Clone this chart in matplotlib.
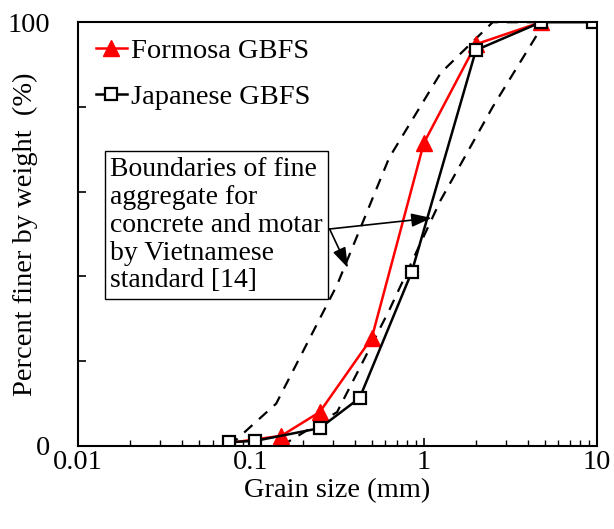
import numpy as np
import matplotlib
matplotlib.use("Agg")
import matplotlib.pyplot as plt
from matplotlib.ticker import FixedLocator, FuncFormatter, LogLocator

plt.rcParams['font.family'] = ['Liberation Serif', 'DejaVu Serif']
plt.rcParams['font.size'] = 20.5

# grading curves (grain size in mm, percent passing)
formosa_x = [0.075, 0.15, 0.25, 0.5, 1.0, 2.0, 4.75]
formosa_y = [0.7, 2.4, 8, 25.5, 71.5, 94.8, 100]

japan_x = [0.075, 0.106, 0.25, 0.425, 0.85, 2.0, 4.75, 9.5]
japan_y = [0.9, 1.2, 4.2, 11.3, 41, 93.4, 100, 100]

# Vietnamese standard boundaries
upper_x = [0.075, 0.14, 0.315, 0.63, 1.25, 2.5, 5]
upper_y = [0, 10, 38, 68, 88, 100, 100]
lower_x = [0.15, 0.315, 0.63, 1.25, 2.5, 5]
lower_y = [0, 8, 32, 58, 80, 100]

fig = plt.figure(figsize=(6.14, 5.29), dpi=100)
ax = fig.add_axes([0.127, 0.157, 0.845, 0.801])

ax.plot(upper_x, upper_y, 'k--', lw=1.6, dashes=(5, 4))
ax.plot(lower_x, lower_y, 'k--', lw=1.6, dashes=(5, 4))
ax.plot(formosa_x, formosa_y, color='red', lw=1.8, marker='^', ms=11,
        mfc='red', mec='red', label='Formosa GBFS')
ax.plot(japan_x, japan_y, color='black', lw=1.8, marker='s', ms=8,
        mfc='white', mec='black', mew=1.6, label='Japanese GBFS')

ax.set_xscale('log')
ax.set_xlim(0.01, 10)
ax.set_ylim(0, 100)
ax.yaxis.set_major_locator(FixedLocator([0, 20, 40, 60, 80, 100]))
ax.yaxis.set_major_formatter(FuncFormatter(lambda v, p: '%d' % v if v in (0, 100) else ''))
ax.xaxis.set_major_locator(LogLocator(base=10))
ax.xaxis.set_minor_locator(LogLocator(base=10, subs=np.arange(2, 10)))
ax.xaxis.set_major_formatter(FuncFormatter(lambda v, p: '%g' % v))
ax.tick_params(axis='both', which='major', direction='in', length=6, width=1.2)
ax.tick_params(axis='y', which='major', pad=20)
ax.tick_params(axis='x', which='major', pad=3)
ax.tick_params(axis='x', which='minor', direction='in', length=4, width=1.0)
for s in ax.spines.values():
    s.set_linewidth(1.5)

ax.set_xlabel('Grain size (mm)', labelpad=2)
ax.set_ylabel('Percent finer by weight  (%)')
ax.yaxis.set_label_coords(-0.077, 0.5)

ax.legend(loc='upper left', frameon=False, handlelength=1.1, handletextpad=0.15,
          borderaxespad=0.0, labelspacing=0.7, bbox_to_anchor=(0.012, 0.99))

ax.text(0.062, 0.682, 'Boundaries of fine\naggregate for\nconcrete and motar\nby Vietnamese\nstandard [14]',
        transform=ax.transAxes, va='top', ha='left', linespacing=1.15, fontsize=20,
        bbox=dict(boxstyle='square,pad=0.2', fc='white', ec='black', lw=1.0))

src = (0.285, 51.2)
ax.annotate('', xy=(1.11, 53.8), xytext=src,
            arrowprops=dict(arrowstyle='-|>,head_length=0.6,head_width=0.2', color='black', lw=1.2,
                            shrinkA=0, shrinkB=0))
ax.annotate('', xy=(0.364, 42), xytext=src,
            arrowprops=dict(arrowstyle='-|>,head_length=0.6,head_width=0.2', color='black', lw=1.2,
                            shrinkA=0, shrinkB=0))

fig.savefig('out.png', dpi=100)
